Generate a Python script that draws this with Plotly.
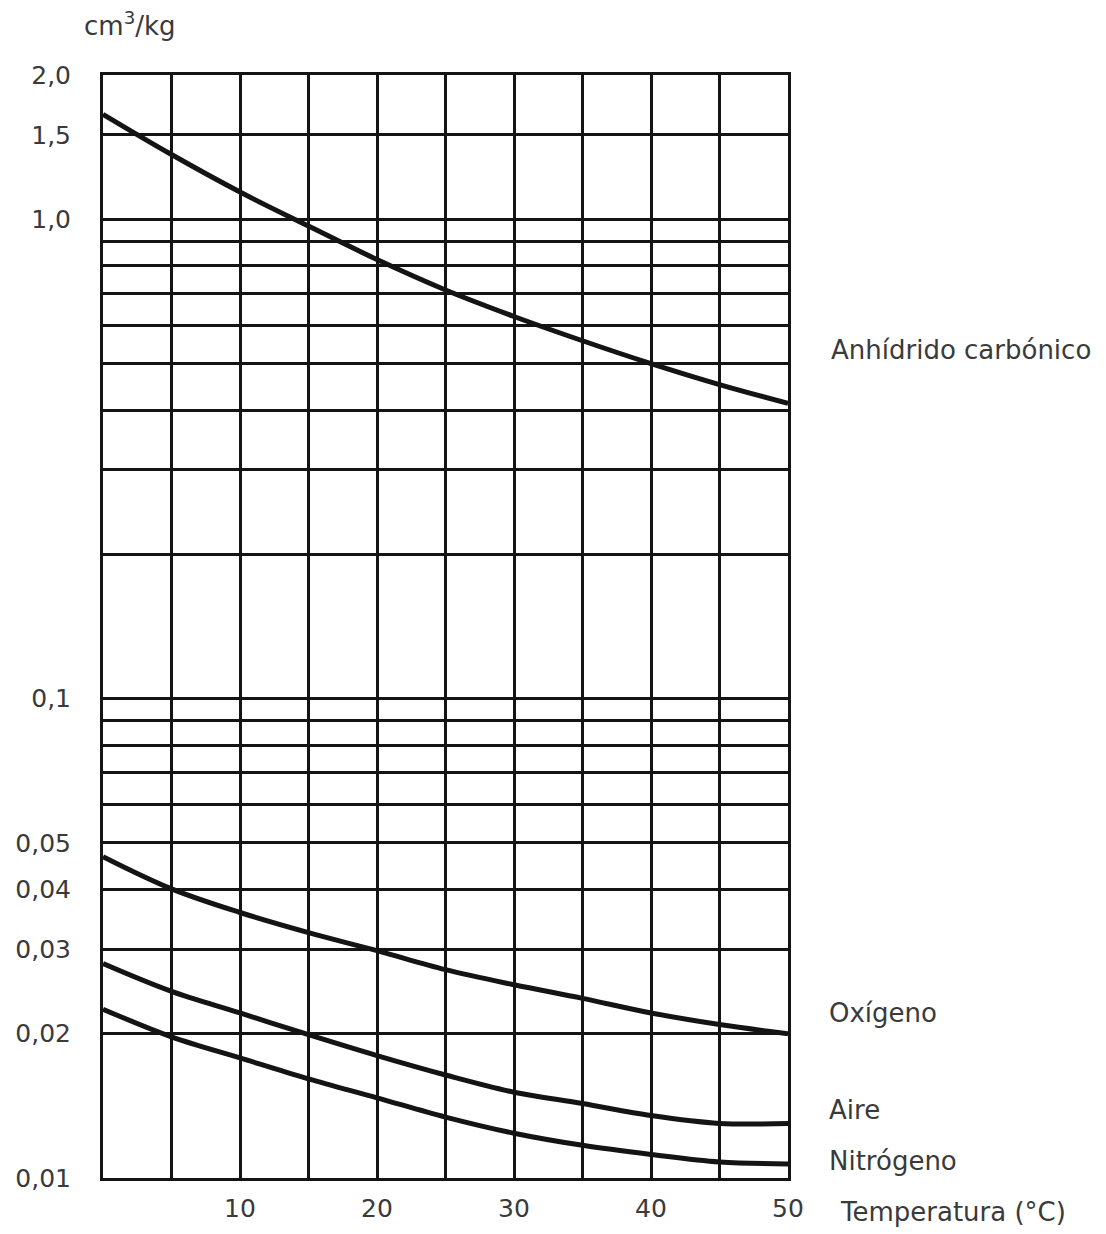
import plotly.graph_objects as go

# Temperature (°C)
temperatura = [0, 5, 10, 15, 20, 25, 30, 35, 40, 45, 50]

# Solubility values (cm3/kg)
anhidrido_carbonico = [1.656, 1.365, 1.140, 0.968, 0.824, 0.712, 0.627, 0.558, 0.500, 0.452, 0.413]
oxigeno = [0.0468, 0.0401, 0.0358, 0.0325, 0.0298, 0.0272, 0.0253, 0.0237, 0.0221, 0.0209, 0.0200]
aire = [0.0280, 0.0245, 0.0221, 0.0199, 0.0180, 0.0164, 0.0151, 0.0143, 0.0135, 0.0130, 0.0130]
nitrogeno = [0.0225, 0.0197, 0.0178, 0.0161, 0.0147, 0.0134, 0.0124, 0.0117, 0.0112, 0.0108, 0.0107]

series_names = ["Anhídrido carbónico", "Oxígeno", "Aire", "Nitrógeno"]

# Axis ticks / grid
x_grid = [0, 5, 10, 15, 20, 25, 30, 35, 40, 45, 50]
x_labels = ["", "", "10", "", "20", "", "30", "", "40", "", "50"]
y_grid = [0.01, 0.02, 0.03, 0.04, 0.05, 0.06, 0.07, 0.08, 0.09, 0.1,
          0.2, 0.3, 0.4, 0.5, 0.6, 0.7, 0.8, 0.9, 1.0, 1.5, 2.0]
y_labels = ["0,01", "0,02", "0,03", "0,04", "0,05", "", "", "", "", "0,1",
            "", "", "", "", "", "", "", "", "1,0", "1,5", "2,0"]

# page body keeps its default 8px margin
OFF = 8
W, H = 1090, 1226
PX0, PX1 = 103, 788      # plot area in page pixels
PY0, PY1 = 75, 1178
L = PX0 - OFF
T = PY0 - OFF
pw = PX1 - PX0
ph = PY1 - PY0
R = W - L - pw
B = H - T - ph

def px_x(px):
    return (px - PX0) / pw

def px_y(py):
    return (PY1 - py) / ph

fig = go.Figure()
for name, vals in zip(series_names, [anhidrido_carbonico, oxigeno, aire, nitrogeno]):
    fig.add_trace(go.Scatter(
        x=temperatura, y=vals, mode="lines", name=name,
        line=dict(color="#141414", width=5, shape="spline", smoothing=1.0),
        showlegend=False, hoverinfo="skip"))

font_family = "DejaVu Sans, Liberation Sans, Arial, sans-serif"
txt_color = "#3a3a3a"

fig.update_xaxes(
    range=[0, 50], tickmode="array", tickvals=x_grid, ticktext=x_labels,
    showgrid=True, gridcolor="#141414", gridwidth=2.5,
    showline=True, linecolor="#141414", linewidth=3, mirror=True,
    ticks="", zeroline=False, ticklabelstandoff=6, automargin=False,
    tickfont=dict(family=font_family, size=25, color=txt_color))
fig.update_yaxes(
    type="log", range=[-2, 0.30103], tickmode="array", tickvals=y_grid, ticktext=y_labels,
    showgrid=True, gridcolor="#141414", gridwidth=2.5,
    showline=True, linecolor="#141414", linewidth=3, mirror=True,
    ticks="", zeroline=False, ticklabelstandoff=24, automargin=False,
    tickfont=dict(family=font_family, size=25, color=txt_color))

annots = [
    ("cm<sup>3</sup>/kg", 82, 24, "left"),
    ("Anhídrido carbónico", 829, 350, "left"),
    ("Oxígeno", 827, 1013, "left"),
    ("Aire", 827, 1110, "left"),
    ("Nitrógeno", 827, 1161, "left"),
    ("Temperatura (°C)", 838, 1212, "left"),
]
for text, x, y, anchor in annots:
    fig.add_annotation(
        text=text, xref="paper", yref="paper", x=px_x(x), y=px_y(y),
        xanchor=anchor, yanchor="middle", showarrow=False,
        font=dict(family=font_family, size=26, color=txt_color))

fig.update_layout(
    width=W, height=H,
    margin=dict(l=L, r=R, t=T, b=B, autoexpand=False),
    paper_bgcolor="white", plot_bgcolor="white",
    showlegend=False)

fig.write_html("out.html", config={"displayModeBar": False})
